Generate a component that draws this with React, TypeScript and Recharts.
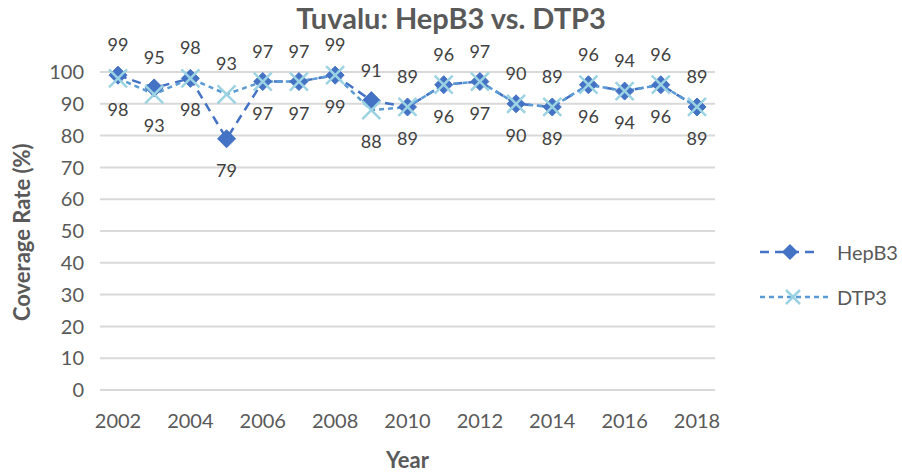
import { LineChart, Line, XAxis, YAxis, CartesianGrid, LabelList } from 'recharts';

document.body.style.margin = '0';

const YEARS = [2002, 2003, 2004, 2005, 2006, 2007, 2008, 2009, 2010, 2011, 2012, 2013, 2014, 2015, 2016, 2017, 2018];
const HEPB3 = [99, 95, 98, 79, 97, 97, 99, 91, 89, 96, 97, 90, 89, 96, 94, 96, 89];
const DTP3 = [98, 93, 98, 93, 97, 97, 99, 88, 89, 96, 97, 90, 89, 96, 94, 96, 89];
const Y_TICKS = [0, 10, 20, 30, 40, 50, 60, 70, 80, 90, 100];

const data = YEARS.map((year, i) => ({ year, HepB3: HEPB3[i], DTP3: DTP3[i] }));

const FONT = 'Lato, "Open Sans", sans-serif';
const HEP_COLOR = '#4472C4';
const DTP_COLOR = '#5B9BD5';
const X_COLOR = '#9BD3E3';
const TEXT = '#595959';

const Diamond = ({ cx, cy }: any) => {
  if (cx == null || cy == null) return null;
  const r = 9;
  return <polygon points={`${cx},${cy - r} ${cx + r},${cy} ${cx},${cy + r} ${cx - r},${cy}`} fill={HEP_COLOR} stroke={HEP_COLOR} strokeWidth={1} />;
};

const Cross = ({ cx, cy }: any) => {
  if (cx == null || cy == null) return null;
  const r = 9;
  return (
    <g stroke={X_COLOR} strokeWidth={2.5}>
      <line x1={cx - r} y1={cy - r} x2={cx + r} y2={cy + r} />
      <line x1={cx - r} y1={cy + r} x2={cx + r} y2={cy - r} />
    </g>
  );
};

// the higher of the two values gets its label above the point, the lower one below
const makeLabel = (key: 'HepB3' | 'DTP3') => (props: any) => {
  const { x, y, value, index } = props;
  const row = data[index];
  const other = key === 'HepB3' ? row.DTP3 : row.HepB3;
  const above = key === 'HepB3' ? value >= other : value > other;
  return (
    <text x={x} y={above ? y - 31 : y + 31} textAnchor="middle" dominantBaseline="central" fill="#404040" fontSize={18} fontFamily={FONT}>
      {value}
    </text>
  );
};

export default function App() {
  return (
    <div style={{ position: 'relative', width: 902, height: 472, background: '#fff' }}>
      <div style={{ position: 'absolute', left: 0, top: 0, width: 902, textAlign: 'center', fontFamily: FONT, fontWeight: 700, fontSize: 29, color: TEXT }}>
        Tuvalu: HepB3 vs. DTP3
      </div>
      <LineChart width={902} height={472} data={data} margin={{ top: 72, right: 187, bottom: 42, left: 40 }}>
        <CartesianGrid vertical={false} stroke="#D9D9D9" strokeWidth={2} />
        <XAxis
          dataKey="year"
          interval={1}
          axisLine={false}
          tickLine={false}
          padding={{ left: 18, right: 18 }}
          height={40}
          tick={{ fill: TEXT, fontSize: 20, fontFamily: FONT }}
          tickMargin={18}
          label={{ value: 'Year', position: 'insideBottom', offset: -38, fill: TEXT, fontSize: 22, fontWeight: 700, fontFamily: FONT }}
        />
        <YAxis
          domain={[0, 100]}
          ticks={Y_TICKS}
          interval={0}
          axisLine={false}
          tickLine={false}
          width={60}
          tickMargin={10}
          tick={{ fill: TEXT, fontSize: 20, fontFamily: FONT }}
          label={{ value: 'Coverage Rate (%)', angle: -90, position: 'insideLeft', offset: -18, dy: 90, fill: TEXT, fontSize: 22, fontWeight: 700, fontFamily: FONT }}
        />
        <Line dataKey="HepB3" stroke={HEP_COLOR} strokeWidth={2.5} strokeDasharray="9 6" dot={<Diamond />} isAnimationActive={false}>
          <LabelList dataKey="HepB3" content={makeLabel('HepB3')} />
        </Line>
        <Line dataKey="DTP3" stroke={DTP_COLOR} strokeWidth={2.5} strokeDasharray="5 4" dot={<Cross />} isAnimationActive={false}>
          <LabelList dataKey="DTP3" content={makeLabel('DTP3')} />
        </Line>
      </LineChart>
      <svg style={{ position: 'absolute', left: 755, top: 235 }} width={147} height={80}>
        <line x1={5} y1={17} x2={65} y2={17} stroke={HEP_COLOR} strokeWidth={2.5} strokeDasharray="9 6" />
        <polygon points="35,9 43,17 35,25 27,17" fill={HEP_COLOR} />
        <text x={82} y={17} dominantBaseline="central" fill={TEXT} fontSize={20} fontFamily={FONT}>HepB3</text>
        <line x1={5} y1={62} x2={73} y2={62} stroke={DTP_COLOR} strokeWidth={2.5} strokeDasharray="5 4" />
        <g stroke={X_COLOR} strokeWidth={2.5}>
          <line x1={31} y1={55} x2={45} y2={69} />
          <line x1={31} y1={69} x2={45} y2={55} />
        </g>
        <text x={82} y={62} dominantBaseline="central" fill={TEXT} fontSize={20} fontFamily={FONT}>DTP3</text>
      </svg>
    </div>
  );
}
